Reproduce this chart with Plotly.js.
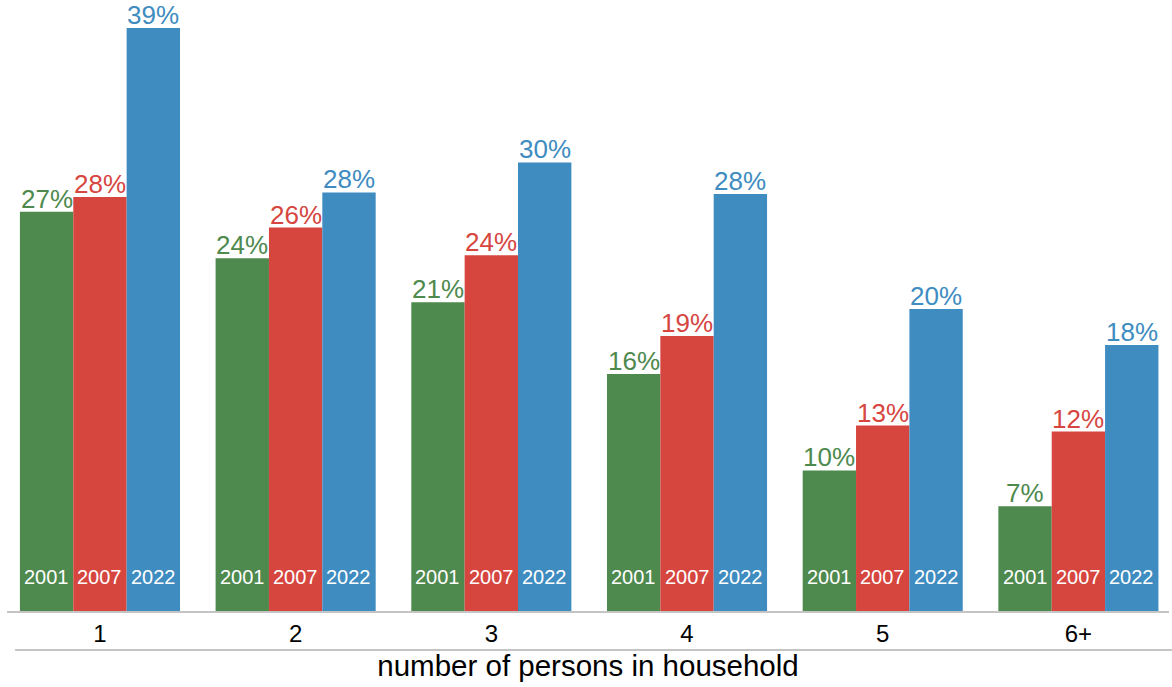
<!DOCTYPE html>
<html>
<head>
<meta charset="utf-8">
<script src="https://cdn.plot.ly/plotly-3.0.1.min.js"></script>
<style>html,body{margin:0;padding:0;background:#fff;}#chart{width:1172px;height:687px;}</style>
</head>
<body>
<div id="chart"></div>
<script>
var categories = ["1", "2", "3", "4", "5", "6+"];
var years = ["2001", "2007", "2022"];
var values2001 = [26.7, 23.6, 20.65, 15.85, 9.4, 7.0];
var values2007 = [27.7, 25.65, 23.8, 18.4, 12.4, 12.0];
var values2022 = [39.0, 28.0, 30.0, 27.9, 20.2, 17.8];
var labels2001 = ["27%", "24%", "21%", "16%", "10%", "7%"];
var labels2007 = ["28%", "26%", "24%", "19%", "13%", "12%"];
var labels2022 = ["39%", "28%", "30%", "28%", "20%", "18%"];
var colors = ["rgb(78,137,78)", "rgb(214,70,63)", "rgb(62,140,192)"];

var FONT = "Liberation Sans, Arial, sans-serif";
var seriesValues = [values2001, values2007, values2022];
var seriesLabels = [labels2001, labels2007, labels2022];

// layout geometry
var W = 1172, H = 687;
var margin = {l: 7, r: 3, t: 10, b: 76};
var xRange = [-0.475, 5.463];
var bargap = 0.182;
var plotW = W - margin.l - margin.r;
var catPx = plotW / (xRange[1] - xRange[0]);
var barPx = catPx * (1 - bargap) / 3;

var traces = [];
var annotations = [];
for (var j = 0; j < 3; j++) {
  traces.push({
    type: "bar",
    x: categories,
    y: seriesValues[j],
    name: years[j],
    marker: {color: colors[j], line: {width: 0}},
    hoverinfo: "skip"
  });
  for (var i = 0; i < categories.length; i++) {
    // on a category axis, annotation x is the category index
    annotations.push({
      xref: "x", yref: "y",
      x: i, y: seriesValues[j][i],
      xshift: (j - 1) * barPx,
      yanchor: "bottom", xanchor: "center",
      yshift: -4,
      showarrow: false,
      text: seriesLabels[j][i],
      font: {family: FONT, size: 26, color: colors[j]}
    });
    annotations.push({
      xref: "x", yref: "y",
      x: i, y: 0,
      xshift: (j - 1) * barPx,
      yanchor: "middle", xanchor: "center",
      yshift: 34,
      showarrow: false,
      text: years[j],
      font: {family: FONT, size: 20, color: "#ffffff"}
    });
  }
}

var layout = {
  width: W,
  height: H,
  margin: margin,
  paper_bgcolor: "#ffffff",
  plot_bgcolor: "#ffffff",
  barmode: "group",
  bargap: bargap,
  bargroupgap: 0,
  showlegend: false,
  font: {family: FONT, color: "#000000"},
  xaxis: {
    type: "category",
    range: xRange,
    showline: true,
    linecolor: "#c4c4c4",
    linewidth: 2,
    ticks: "",
    showgrid: false,
    zeroline: false,
    tickfont: {family: FONT, size: 24, color: "#000000"},
    title: {text: "number of persons in household", font: {family: FONT, size: 29.5, color: "#000000"}, standoff: 10}
  },
  yaxis: {
    range: [0, 40.2],
    visible: false,
    showgrid: false,
    zeroline: false
  },
  annotations: annotations,
  shapes: [{
    type: "line",
    xref: "paper", yref: "paper",
    x0: 0.007, x1: 1.01,
    y0: -0.0649, y1: -0.0649,
    line: {color: "#c4c4c4", width: 2}
  }]
};

Plotly.newPlot("chart", traces, layout, {displayModeBar: false, staticPlot: true});
</script>
</body>
</html>
